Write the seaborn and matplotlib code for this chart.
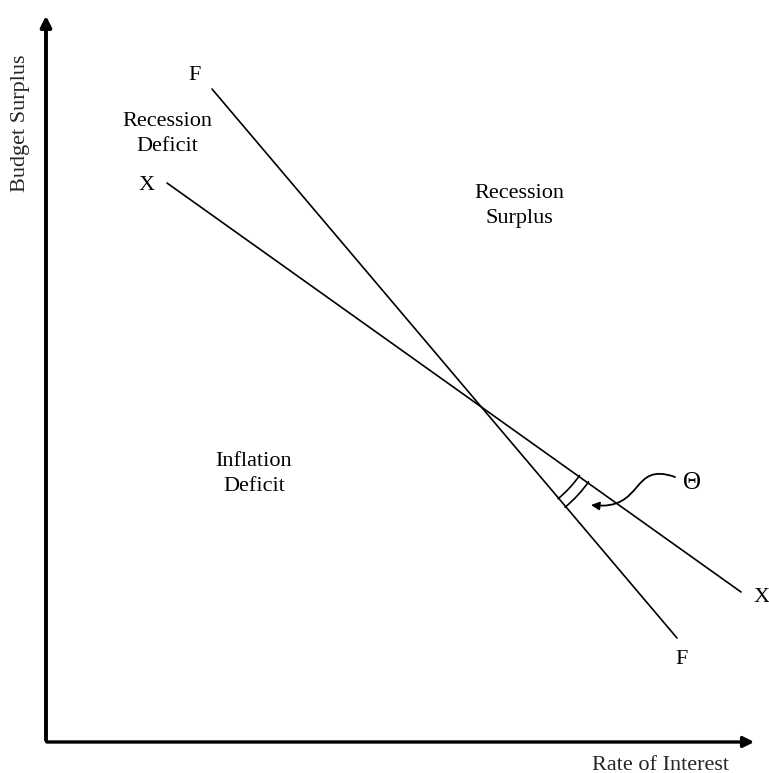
import matplotlib
matplotlib.use("Agg")
import matplotlib.pyplot as plt
import seaborn as sns
from matplotlib.patches import Arc, FancyArrowPatch
from matplotlib.path import Path

# line endpoints (picture units, y up)
f_x = [212, 677]
f_y = [684, 135]
x_x = [167, 741]
x_y = [590, 181]
cross = (480, 368)

# region labels
labels = ["F", "Recession\nDeficit", "X", "Recession\nSurplus", "Inflation\nDeficit", "X", "F"]
label_x = [195, 167, 147, 519, 254, 762, 682]
label_y = [697, 639, 587, 567, 299, 176, 113]

sns.set_theme(style="white")
plt.rcParams['font.family'] = ['Liberation Serif', 'DejaVu Serif']

fig = plt.figure(figsize=(7.69, 7.73), dpi=100)
ax = fig.add_axes([0, 0, 1, 1])
ax.set_xlim(0, 769)
ax.set_ylim(0, 773)
ax.axis("off")

# axes with arrows
ax.annotate("", xy=(46, 760), xytext=(46, 30),
            arrowprops=dict(arrowstyle="-|>", lw=2.8, color="black", mutation_scale=16))
ax.annotate("", xy=(757, 31), xytext=(44, 31),
            arrowprops=dict(arrowstyle="-|>", lw=2.4, color="black", mutation_scale=16))

sns.lineplot(x=f_x, y=f_y, color="black", lw=1.2, sort=False, ax=ax)
sns.lineplot(x=x_x, y=x_y, color="black", lw=1.2, sort=False, ax=ax)

for t, lx, ly in zip(labels, label_x, label_y):
    ax.text(lx, ly, t, ha="center", va="center", fontsize=16, color="black",
            linespacing=1.45)

ax.text(692, 290, "Θ", ha="center", va="center", fontsize=18, color="black")
ax.text(21, 650, "Budget Surplus", rotation=90, ha="center", va="center", fontsize=16)
ax.text(660, 8, "Rate of Interest", ha="center", va="center", fontsize=16)

# angle marks
for r in [122, 133]:
    ax.add_patch(Arc(cross, 2 * r, 2 * r, theta1=-50.5, theta2=-35.0, color="black", lw=1.2))

# curved pointer to the angle
p = Path([(675, 296), (630, 312), (645, 262), (591, 268)],
         [Path.MOVETO, Path.CURVE4, Path.CURVE4, Path.CURVE4])
ax.add_patch(FancyArrowPatch(path=p, arrowstyle="-|>", mutation_scale=12, color="black", lw=1.3))

fig.savefig("out.png", dpi=100)
